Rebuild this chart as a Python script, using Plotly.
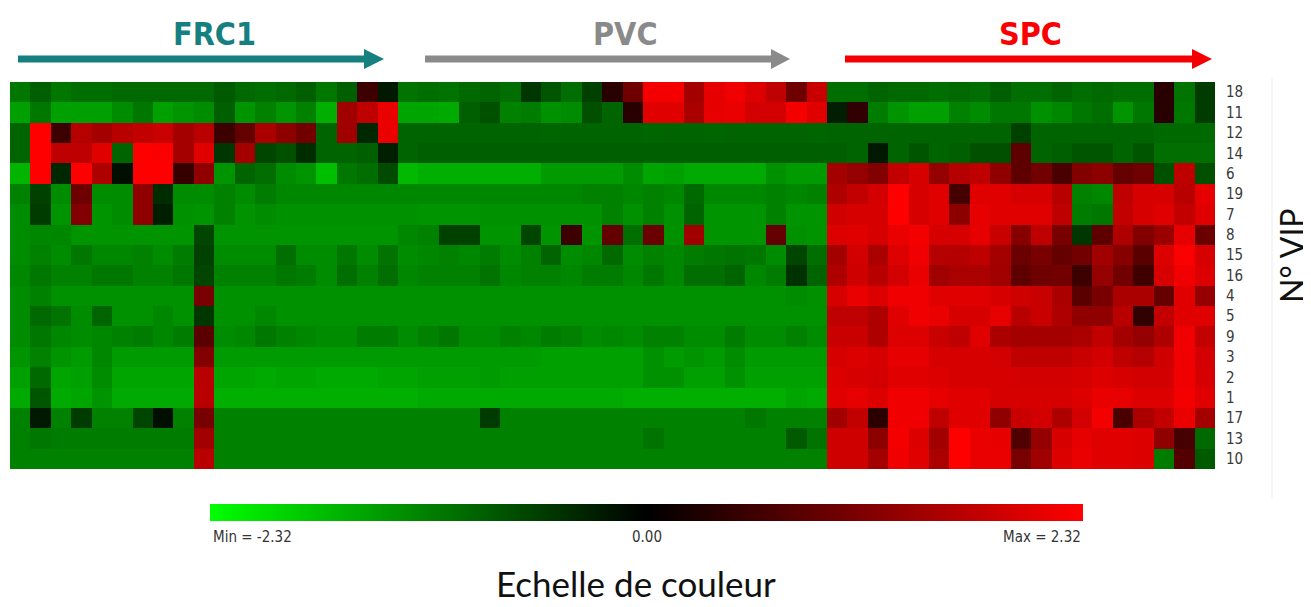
import plotly.graph_objects as go

# ---------------- data ----------------
row_labels = ["18", "11", "12", "14", "6", "19", "7", "8", "15", "16",
              "4", "5", "9", "3", "2", "1", "17", "13", "10"]
n_cols = 59
groups = ["FRC1", "PVC", "SPC"]
z_min, z_max = -2.32, 2.32
colorbar_labels = ["Min = -2.32", "0.00", "Max = 2.32"]

vip_18 = [-1.09,-0.86,-1.09,-1.00,-1.00,-0.96,-0.96,-0.96,-0.96,-0.96,-0.82,-0.96,-1.00,-0.96,-0.86,-1.09,-0.86,0.55,-0.23,-1.05,
          -1.00,-1.05,-0.96,-0.91,-1.00,-0.50,-0.77,-1.00,-0.59,0.36,1.00,2.23,2.23,1.50,2.09,2.18,2.00,1.73,1.00,1.82,
          -1.00,-1.00,-0.91,-0.96,-0.96,-1.00,-0.96,-1.00,-0.86,-1.00,-1.00,-0.91,-1.00,-0.96,-1.00,-1.00,0.36,-1.05,-0.55]
vip_11 = [-1.46,-1.09,-1.46,-1.46,-1.46,-1.27,-1.09,-1.46,-1.36,-1.27,-0.86,-1.36,-1.18,-1.36,-1.18,-1.59,1.46,1.73,2.14,-1.50,
          -1.50,-1.55,-0.86,-0.73,-1.18,-1.14,-1.32,-1.27,-0.73,-0.91,0.36,2.05,2.05,1.55,2.09,2.14,1.91,1.91,2.23,2.05,
          -0.27,0.45,-1.14,-1.36,-1.46,-1.46,-1.18,-1.27,-1.09,-1.09,-1.32,-1.23,-1.09,-1.00,-1.36,-1.09,0.36,-1.09,-0.55]
vip_12 = [-0.91,2.32,0.55,1.64,1.50,1.68,1.77,1.82,1.50,1.68,0.55,0.91,1.55,1.27,1.05,-0.91,1.46,-0.36,2.14,-0.91,
          -0.91,-0.91,-0.91,-0.91,-0.91,-0.91,-0.93,-0.91,-0.91,-0.91,-0.91,-0.93,-0.91,-0.91,-0.93,-0.91,-0.91,-0.91,-0.91,-0.93,
          -0.91,-0.91,-0.91,-0.91,-0.91,-0.91,-0.91,-0.91,-0.91,-0.59,-0.91,-0.91,-0.91,-0.91,-0.91,-0.91,-0.96,-0.96,-0.96]
vip_14 = [-0.91,2.32,1.73,1.73,2.05,-0.91,2.32,2.27,1.50,2.05,-0.50,1.50,-0.64,-0.73,-0.41,-0.91,-0.91,-0.86,-0.27,-0.91,
          -0.86,-0.86,-0.86,-0.86,-0.86,-0.86,-0.86,-0.86,-0.86,-0.86,-0.86,-0.86,-0.86,-0.86,-0.86,-0.86,-0.86,-0.86,-0.86,-0.86,
          -0.86,-0.91,-0.23,-0.91,-0.77,-0.91,-0.86,-0.73,-0.73,0.86,-0.91,-0.86,-0.77,-0.77,-0.91,-0.77,-1.00,-1.00,-1.00]
vip_6 = [-1.64,2.32,-0.36,2.32,1.59,-0.14,2.32,2.32,0.50,1.32,-1.36,-0.91,-1.00,-1.27,-1.36,-1.73,-1.09,-1.00,-0.68,-1.68,
         -1.59,-1.59,-1.59,-1.59,-1.59,-1.59,-1.41,-1.41,-1.41,-1.41,-1.27,-1.50,-1.46,-1.55,-1.55,-1.55,-1.55,-1.32,-1.41,-1.41,
         1.50,1.36,1.18,1.77,1.96,1.36,1.64,1.73,1.32,0.86,1.05,0.68,1.18,1.27,0.91,1.00,-0.73,1.73,-0.73]
vip_19 = [-1.18,-0.59,-1.27,1.00,-1.27,-1.27,1.32,-0.41,-1.27,-1.27,-1.18,-1.27,-1.14,-1.23,-1.23,-1.23,-1.23,-1.23,-1.23,-1.23,
          -1.23,-1.23,-1.23,-1.23,-1.23,-1.23,-1.23,-1.23,-1.18,-1.18,-1.23,-1.18,-1.23,-0.96,-1.23,-1.23,-1.23,-1.18,-1.23,-1.18,
          1.59,1.77,1.91,2.32,1.96,2.05,0.64,2.05,2.05,1.96,1.96,1.68,-1.18,-1.23,1.73,1.96,1.96,1.68,2.09]
vip_7 = [-1.27,-0.55,-1.36,1.18,-1.36,-1.27,1.32,-0.27,-1.32,-1.36,-1.18,-1.36,-1.27,-1.32,-1.32,-1.32,-1.32,-1.32,-1.32,-1.32,
         -1.36,-1.36,-1.36,-1.32,-1.32,-1.32,-1.32,-1.32,-1.32,-1.18,-1.32,-1.18,-1.32,-0.91,-1.36,-1.36,-1.36,-1.18,-1.36,-1.36,
         1.87,1.96,1.96,2.32,1.96,2.05,1.27,2.09,2.05,2.05,2.05,1.73,-1.14,-1.09,1.77,1.96,2.05,1.77,2.05]
vip_8 = [-1.27,-1.23,-1.23,-1.36,-1.36,-1.36,-1.36,-1.36,-1.36,-0.64,-1.36,-1.36,-1.36,-1.36,-1.36,-1.36,-1.36,-1.36,-1.36,-1.23,
         -1.18,-0.59,-0.59,-1.36,-1.36,-0.64,-1.36,0.55,-1.36,0.91,-1.00,0.96,-1.32,1.46,-1.36,-1.36,-1.36,0.91,-1.32,-1.36,
         2.00,2.05,1.96,2.14,2.23,1.96,1.96,2.09,1.82,1.23,1.73,1.09,-0.50,0.86,1.59,1.18,1.41,2.09,0.96]
vip_15 = [-1.27,-1.18,-1.27,-1.09,-1.23,-1.23,-1.18,-1.27,-1.14,-0.59,-1.27,-1.27,-1.27,-1.00,-1.27,-1.27,-1.09,-1.27,-1.05,-1.27,
          -1.23,-1.18,-1.23,-1.14,-1.27,-1.18,-0.91,-1.27,-1.23,-0.96,-1.27,-1.18,-1.23,-1.14,-1.09,-1.05,-1.09,-1.27,-0.64,-1.00,
          1.50,1.91,1.55,2.00,2.18,1.64,1.64,1.73,1.50,0.96,1.09,0.91,1.05,1.46,1.23,0.82,2.00,2.27,1.96]
vip_16 = [-1.23,-1.09,-1.18,-1.18,-1.09,-1.09,-1.18,-1.18,-1.09,-0.64,-1.18,-1.18,-1.18,-1.09,-1.14,-1.27,-1.00,-1.18,-1.00,-1.23,
          -1.18,-1.18,-1.18,-1.05,-1.23,-1.18,-1.18,-1.23,-1.14,-1.14,-1.23,-1.09,-1.23,-1.00,-1.00,-0.91,-1.23,-1.14,-0.45,-0.91,
          1.59,1.87,1.68,1.91,2.14,1.46,1.55,1.55,1.46,0.86,1.00,1.05,0.55,1.36,1.05,0.59,1.96,2.18,2.00]
vip_4 = [-1.27,-1.18,-1.32,-1.32,-1.32,-1.32,-1.32,-1.32,-1.32,1.09,-1.32,-1.32,-1.32,-1.32,-1.32,-1.32,-1.32,-1.32,-1.32,-1.32,
         -1.32,-1.32,-1.32,-1.32,-1.32,-1.32,-1.32,-1.32,-1.32,-1.32,-1.32,-1.32,-1.32,-1.32,-1.32,-1.32,-1.32,-1.32,-1.27,-1.32,
         1.96,2.14,2.00,2.18,2.18,2.05,2.05,2.05,1.96,1.87,1.82,1.55,0.82,1.09,1.55,1.55,0.91,2.05,1.36]
vip_5 = [-1.27,-0.96,-1.05,-1.27,-0.91,-1.32,-1.32,-1.23,-1.32,-0.50,-1.32,-1.32,-1.23,-1.32,-1.32,-1.32,-1.32,-1.32,-1.32,-1.32,
         -1.32,-1.32,-1.32,-1.32,-1.32,-1.32,-1.32,-1.32,-1.32,-1.32,-1.32,-1.32,-1.32,-1.32,-1.32,-1.32,-1.32,-1.32,-1.32,-1.32,
         1.73,1.73,1.59,2.05,2.18,2.14,1.96,1.96,2.09,1.68,1.82,1.59,1.32,1.32,1.68,0.45,1.77,2.05,2.05]
vip_9 = [-1.27,-1.09,-1.23,-1.27,-1.23,-1.18,-1.14,-1.23,-1.14,0.82,-1.27,-1.23,-1.09,-1.18,-1.23,-1.27,-1.27,-1.14,-1.14,-1.27,
         -1.18,-1.09,-1.27,-1.27,-1.18,-1.23,-1.14,-1.18,-1.27,-1.23,-1.27,-1.18,-1.18,-1.27,-1.27,-1.14,-1.27,-1.27,-1.18,-1.27,
         1.82,1.82,1.59,2.00,2.00,1.82,1.73,2.05,1.55,1.50,1.50,1.50,1.55,1.77,1.50,1.36,1.59,2.18,1.77]
vip_3 = [-1.36,-1.18,-1.36,-1.41,-1.23,-1.41,-1.41,-1.41,-1.41,1.18,-1.41,-1.41,-1.41,-1.41,-1.41,-1.41,-1.41,-1.41,-1.41,-1.41,
         -1.41,-1.41,-1.41,-1.41,-1.41,-1.41,-1.46,-1.46,-1.46,-1.46,-1.46,-1.32,-1.41,-1.36,-1.41,-1.27,-1.41,-1.41,-1.41,-1.41,
         1.96,2.00,1.96,2.09,2.09,1.96,1.96,1.96,1.91,1.73,1.73,1.73,1.82,1.91,1.73,1.64,1.87,2.18,1.91]
vip_2 = [-1.46,-0.96,-1.50,-1.46,-1.27,-1.50,-1.50,-1.50,-1.50,1.68,-1.50,-1.50,-1.55,-1.50,-1.50,-1.55,-1.55,-1.55,-1.50,-1.50,
         -1.46,-1.46,-1.46,-1.41,-1.46,-1.46,-1.46,-1.46,-1.46,-1.46,-1.46,-1.32,-1.32,-1.46,-1.46,-1.32,-1.46,-1.46,-1.46,-1.46,
         2.00,1.96,1.91,2.05,2.05,2.00,1.96,1.96,1.96,1.91,1.91,1.91,1.96,2.00,1.96,1.91,1.91,2.18,1.96]
vip_1 = [-1.55,-0.77,-1.55,-1.50,-1.36,-1.55,-1.55,-1.55,-1.55,1.68,-1.59,-1.59,-1.59,-1.59,-1.59,-1.59,-1.59,-1.59,-1.59,-1.59,
         -1.55,-1.55,-1.55,-1.55,-1.55,-1.55,-1.55,-1.55,-1.55,-1.55,-1.59,-1.59,-1.59,-1.59,-1.59,-1.59,-1.59,-1.59,-1.50,-1.55,
         2.05,2.09,2.00,2.18,2.18,2.09,2.05,2.05,1.96,1.96,1.96,1.96,2.00,2.14,2.09,2.00,2.00,2.23,2.05]
vip_17 = [-1.18,-0.23,-1.18,-0.55,-1.18,-1.18,-0.64,-0.14,-1.18,1.09,-1.18,-1.18,-1.18,-1.18,-1.18,-1.18,-1.18,-1.18,-1.18,-1.18,
          -1.18,-1.18,-1.18,-0.55,-1.18,-1.18,-1.18,-1.18,-1.18,-1.18,-1.18,-1.18,-1.18,-1.18,-1.18,-1.18,-1.09,-1.18,-1.18,-1.18,
          1.46,1.77,0.41,2.18,2.18,1.73,2.05,2.05,1.32,1.82,1.91,1.59,1.91,2.23,0.68,1.55,1.77,2.14,1.50]
vip_13 = [-1.18,-1.09,-1.14,-1.14,-1.14,-1.14,-1.14,-1.14,-1.14,1.46,-1.18,-1.18,-1.18,-1.18,-1.18,-1.18,-1.18,-1.18,-1.18,-1.18,
          -1.18,-1.18,-1.18,-1.18,-1.18,-1.18,-1.18,-1.18,-1.18,-1.18,-1.18,-1.05,-1.18,-1.18,-1.18,-1.18,-1.18,-1.18,-0.82,-1.05,
          1.87,1.87,1.27,2.23,2.00,1.46,2.32,2.14,2.09,0.73,1.36,1.96,2.09,2.05,2.05,2.00,1.32,0.64,-0.96]
vip_10 = [-1.18,-1.18,-1.18,-1.18,-1.18,-1.18,-1.18,-1.18,-1.18,1.68,-1.18,-1.18,-1.18,-1.18,-1.18,-1.18,-1.18,-1.18,-1.18,-1.18,
          -1.18,-1.18,-1.18,-1.18,-1.18,-1.18,-1.18,-1.18,-1.18,-1.18,-1.18,-1.18,-1.18,-1.18,-1.18,-1.18,-1.18,-1.18,-1.18,-1.18,
          1.87,1.87,1.50,2.18,2.05,1.55,2.32,2.14,2.14,1.09,1.46,2.00,2.14,2.05,2.05,2.00,-1.14,0.77,-0.82]

z_rows = [vip_18, vip_11, vip_12, vip_14, vip_6, vip_19, vip_7, vip_8, vip_15, vip_16,
          vip_4, vip_5, vip_9, vip_3, vip_2, vip_1, vip_17, vip_13, vip_10]

# ---------------- layout helpers ----------------
# The page has an 8px body margin, so reference pixel positions are shifted by OFF.
OFF = 8
W, H = 1311 - OFF, 607 - OFF
L, R, T, B = 10 - OFF, 1215 - OFF, 82 - OFF, 469 - OFF


def px(x):
    """reference page x (pixels) -> paper coordinate"""
    return (x - OFF - L) / (R - L)


def py(y):
    """reference page y (pixels) -> paper coordinate"""
    return (B - (y - OFF)) / (B - T)


colorscale = [[0.0, "rgb(0,255,0)"], [0.5, "rgb(0,0,0)"], [1.0, "rgb(255,0,0)"]]

fig = go.Figure(go.Heatmap(
    z=z_rows,
    x=list(range(n_cols)),
    y=row_labels,
    zmin=z_min, zmax=z_max,
    colorscale=colorscale,
    hoverongaps=False,
    colorbar=dict(
        orientation="h",
        x=px(646.5), xanchor="center",
        y=py(504), yanchor="top",
        len=873, lenmode="pixels",
        thickness=17, thicknessmode="pixels",
        xpad=0, ypad=0,
        outlinewidth=0,
        showticklabels=False, ticks="",
    ),
))

narrow = "Liberation Sans Narrow, Arial Narrow, DejaVu Sans Condensed, sans-serif"

fig.update_xaxes(visible=False, range=[-0.5, n_cols - 0.5])
fig.update_yaxes(type="category", autorange="reversed", side="right",
                 showgrid=False, zeroline=False, ticks="",
                 ticklabelstandoff=10,
                 tickfont=dict(family=narrow, size=15, color="#3a3a3a"))

shapes = []
annotations = []

# faint frame line at the right of the heatmap panel
shapes.append(dict(type="line", xref="paper", yref="paper",
                   x0=px(1272), x1=px(1272), y0=py(78), y1=py(498),
                   line=dict(color="#ececec", width=1)))

# group arrows and titles
arrow_specs = [
    (groups[0], 18, 364, 384, 214, "rgb(22,128,128)", "rgb(22,128,128)"),
    (groups[1], 425, 771, 790, 625, "rgb(138,138,138)", "rgb(138,138,138)"),
    (groups[2], 845, 1192, 1212, 1030, "rgb(245,0,0)", "rgb(250,0,0)"),
]
arrow_y = 59
for name, x0, xb, tip, xt, col, tcol in arrow_specs:
    shapes.append(dict(type="line", xref="paper", yref="paper",
                       x0=px(x0), x1=px(xb + 1), y0=py(arrow_y), y1=py(arrow_y),
                       line=dict(color=col, width=7)))
    path = "M {a},{b} L {c},{d} L {e},{f} Z".format(
        a=px(xb), b=py(arrow_y - 10), c=px(tip), d=py(arrow_y),
        e=px(xb), f=py(arrow_y + 10))
    shapes.append(dict(type="path", xref="paper", yref="paper", path=path,
                       fillcolor=col, line=dict(width=0)))
    annotations.append(dict(text="<b>" + name + "</b>", xref="paper", yref="paper",
                            x=px(xt), y=py(34), xanchor="center", yanchor="middle",
                            showarrow=False,
                            font=dict(family=narrow, size=32, color=tcol)))

# colorbar labels
lab_font = dict(family=narrow, size=15, color="#333333")
annotations.append(dict(text=colorbar_labels[0], xref="paper", yref="paper",
                        x=px(211), y=py(537), xanchor="left", yanchor="middle",
                        showarrow=False, font=lab_font))
annotations.append(dict(text=colorbar_labels[1], xref="paper", yref="paper",
                        x=px(647), y=py(537), xanchor="center", yanchor="middle",
                        showarrow=False, font=lab_font))
annotations.append(dict(text=colorbar_labels[2], xref="paper", yref="paper",
                        x=px(1083), y=py(537), xanchor="right", yanchor="middle",
                        showarrow=False, font=lab_font))

annotations.append(dict(text="Echelle de couleur", xref="paper", yref="paper",
                        x=px(636), y=py(583), xanchor="center", yanchor="middle",
                        showarrow=False, font=dict(family="Lato, Open Sans, sans-serif", size=35, color="#111111")))

annotations.append(dict(text="N° VIP", xref="paper", yref="paper", textangle=-90,
                        x=px(1291), y=py(256), xanchor="center", yanchor="middle",
                        showarrow=False, font=dict(family="Lato, Open Sans, sans-serif", size=32, color="#111111")))

fig.update_layout(
    width=W, height=H,
    margin=dict(l=L, r=W - R, t=T, b=H - B, pad=0),
    paper_bgcolor="white", plot_bgcolor="white",
    shapes=shapes, annotations=annotations,
    showlegend=False,
)

fig.write_html("out.html")
